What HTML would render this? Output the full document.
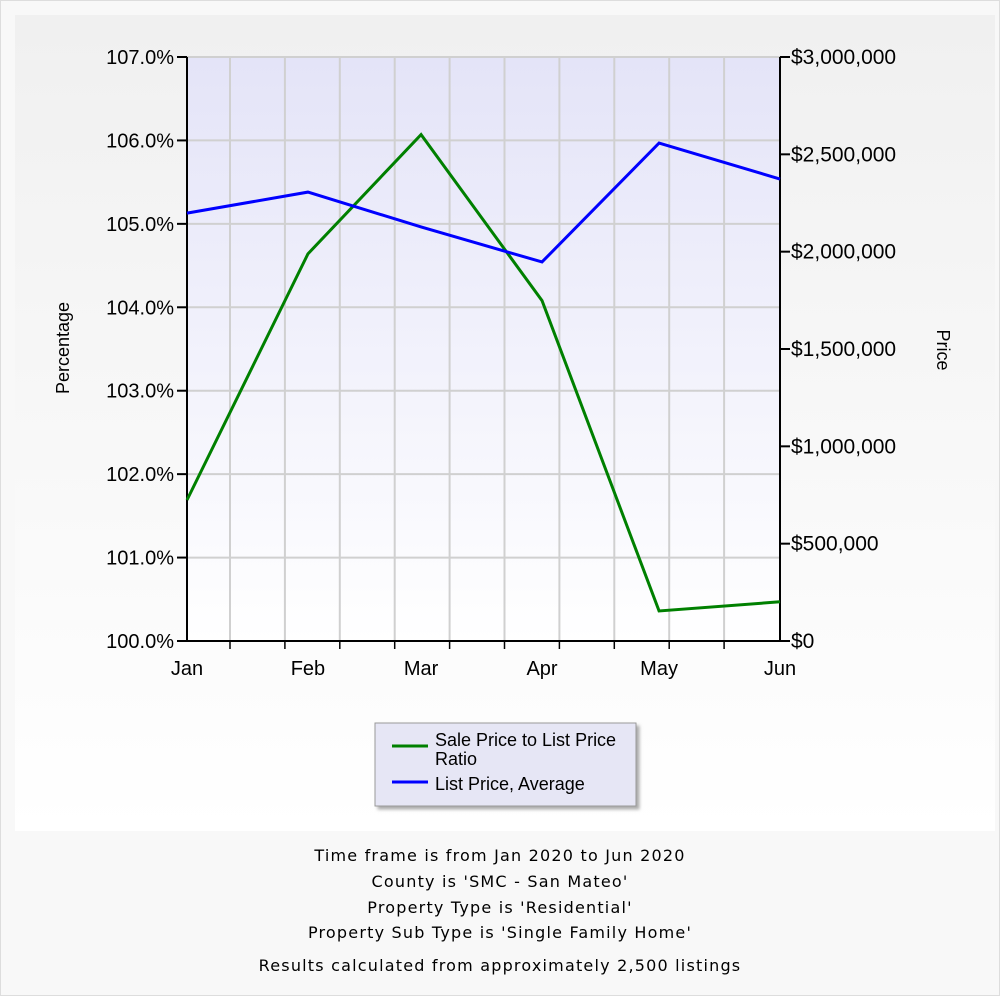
<!DOCTYPE html>
<html><head><meta charset="utf-8"><style>
body{margin:0;width:1000px;height:996px;background:#f8f8f8;font-family:"Liberation Sans",sans-serif;overflow:hidden}
#outer{position:absolute;left:0;top:0;width:998px;height:994px;border:1px solid #ddd;background:#f8f8f8}
#panel{position:absolute;left:15px;top:15px;width:980px;height:816px;background:linear-gradient(#f0f0f0,#fff)}
.info{position:absolute;left:0;width:1000px;text-align:center;font-family:"DejaVu Sans",sans-serif;font-size:16px;letter-spacing:1.2px;color:#000}
</style></head><body>
<div id="outer"></div>
<div id="panel"></div>
<svg id="chart" width="1000" height="996" style="position:absolute;left:0;top:0">
<defs>
<linearGradient id="pg" x1="0" y1="0" x2="0" y2="1"><stop offset="0" stop-color="#e4e4f8"/><stop offset="1" stop-color="#ffffff"/></linearGradient>
<filter id="sh"><feDropShadow dx="3" dy="3" stdDeviation="1.5" flood-color="#888" flood-opacity="0.7"/></filter>
</defs>
<g id="g"></g>
</svg>
<div class="info" style="top:846px">Time frame is from Jan 2020 to Jun 2020</div>
<div class="info" style="top:872px">County is 'SMC - San Mateo'</div>
<div class="info" style="top:898px">Property Type is 'Residential'</div>
<div class="info" style="top:923px">Property Sub Type is 'Single Family Home'</div>
<div class="info" style="top:956px">Results calculated from approximately 2,500 listings</div>
<script>
const months=["Jan","Feb","Mar","Apr","May","Jun"];
const dayOffsets=[0,31,60,91,121,152];
const ratioValues=[101.69,104.64,106.07,104.08,100.36,100.47];
const priceValues=[2198000,2306000,2127000,1947000,2558000,2373000];
const leftTicks=[100,101,102,103,104,105,106,107];
const rightTicks=[0,500000,1000000,1500000,2000000,2500000,3000000];
const X0=187,X1=780,Y0=641,Y1=57;
const NS="http://www.w3.org/2000/svg";
const g=document.getElementById("g");
const xs=d=>X0+(d-dayOffsets[0])/(dayOffsets[5]-dayOffsets[0])*(X1-X0);
const yl=v=>Y0-(v-100)/7*(Y0-Y1);
const yr=v=>Y0-v/3000000*(Y0-Y1);
function mk(t,a,txt){const e=document.createElementNS(NS,t);for(const k in a)e.setAttribute(k,a[k]);if(txt!=null)e.textContent=txt;g.appendChild(e);return e;}
const bg=mk("rect",{x:X0,y:Y1,width:X1-X0,height:Y0-Y1,fill:"url(#pg)"});


for(let x=230;x<X1-5;x+=54.9){const l=mk("line",{x1:x,x2:x,y1:Y1,y2:Y0,stroke:"#d0d0d0","stroke-width":2});


const t=mk("line",{x1:x,x2:x,y1:Y0,y2:Y0+8,stroke:"#000","stroke-width":1.5});

}
leftTicks.forEach(v=>{const y=yl(v);
const l=mk("line",{x1:X0,x2:X1,y1:y,y2:y,stroke:"#d0d0d0","stroke-width":2});


mk("line",{x1:X0-10,x2:X0,y1:y,y2:y,stroke:"#000","stroke-width":2});
const t=mk("text",{x:X0-13,y:y+7,"text-anchor":"end","font-size":20,fill:"#000"},v.toFixed(1)+"%");

});
rightTicks.forEach(v=>{const y=yr(v);
mk("line",{x1:X1,x2:X1+10,y1:y,y2:y,stroke:"#000","stroke-width":2});
const t=mk("text",{x:X1+11,y:y+7,"font-size":21,fill:"#000"},"$"+v.toLocaleString("en-US"));

});
mk("line",{x1:X0,x2:X0,y1:Y1,y2:Y0+1,stroke:"#000","stroke-width":2});
mk("line",{x1:X1,x2:X1,y1:Y1,y2:Y0+1,stroke:"#000","stroke-width":2});
mk("line",{x1:X0-10,x2:X1,y1:Y0,y2:Y0,stroke:"#000","stroke-width":2});
months.forEach((m,i)=>{const t=mk("text",{x:xs(dayOffsets[i]),y:Y0+34,"text-anchor":"middle","font-size":20,fill:"#000"},m);

});
const gl=mk("polyline",{points:ratioValues.map((v,i)=>xs(dayOffsets[i])+","+yl(v)).join(" "),fill:"none",stroke:"#008000","stroke-width":3});


const bl=mk("polyline",{points:priceValues.map((v,i)=>xs(dayOffsets[i])+","+yr(v)).join(" "),fill:"none",stroke:"#0000ff","stroke-width":3});


const lt=mk("text",{transform:"translate(69,348) rotate(-90)","text-anchor":"middle","font-size":18,fill:"#000"},"Percentage");


const rt=mk("text",{transform:"translate(937,350) rotate(90)","text-anchor":"middle","font-size":18,fill:"#000"},"Price");


const lg=mk("rect",{x:375,y:723,width:261,height:83,fill:"#e6e6f5",stroke:"#999","stroke-width":1,filter:"url(#sh)"});


mk("line",{x1:392,x2:428,y1:746,y2:746,stroke:"#008000","stroke-width":3});
mk("line",{x1:392,x2:428,y1:782,y2:782,stroke:"#0000ff","stroke-width":3});
const e1=mk("text",{x:435,y:746,"font-size":18,fill:"#000"},"Sale Price to List Price");


mk("text",{x:435,y:765,"font-size":18,fill:"#000"},"Ratio");
const e2=mk("text",{x:435,y:790,"font-size":18,fill:"#000"},"List Price, Average");


</script>
</body></html>
